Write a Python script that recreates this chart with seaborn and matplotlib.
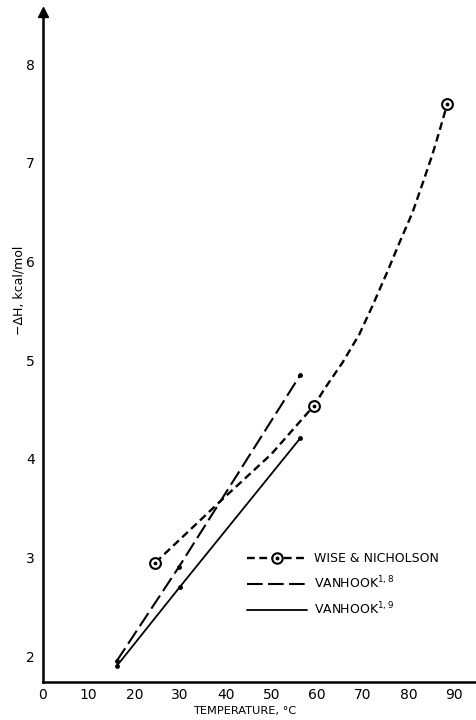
import matplotlib
matplotlib.use("Agg")
import matplotlib.pyplot as plt
import seaborn as sns
from matplotlib.lines import Line2D
from matplotlib.legend_handler import HandlerTuple

wn_curve_t = [24.6, 39.0, 50.0, 59.3, 61.9, 65.6, 69.2, 72.1, 75.4, 78.0, 80.9, 83.0, 85.2, 86.7, 88.5]
wn_curve_h = [2.95, 3.58, 4.05, 4.54, 4.73, 4.98, 5.26, 5.55, 5.90, 6.19, 6.50, 6.78, 7.08, 7.31, 7.60]
wn_pts_t = [24.6, 59.3, 88.5]
wn_pts_h = [2.95, 4.54, 7.60]

# Vanhook 1,8 (long dashes) and Vanhook 1,9 (solid)
vh8_t = [16.1, 29.8, 56.3]
vh8_h = [1.95, 2.91, 4.85]
vh9_t = [16.1, 29.9, 56.3]
vh9_h = [1.90, 2.70, 4.21]

x_ticks = [0, 10, 20, 30, 40, 50, 60, 70, 80, 90]
y_ticks = [2, 3, 4, 5, 6, 7, 8]

sns.set_theme(style="white")
plt.rcParams['font.family'] = ['DejaVu Sans']
plt.rcParams['text.color'] = 'black'
plt.rcParams['axes.labelcolor'] = 'black'
plt.rcParams['xtick.color'] = 'black'
plt.rcParams['ytick.color'] = 'black'

fig = plt.figure(figsize=(4.77, 7.2), dpi=100)
ax = fig.add_axes([43 / 477, 38 / 720, 434 / 477, 670 / 720])

wn_style = (0, (3.3, 1.9))
vh8_style = (0, (7.5, 2.6))

sns.lineplot(x=wn_curve_t, y=wn_curve_h, ax=ax, color="black", lw=1.7,
             linestyle=wn_style, sort=False, estimator=None)
ax.scatter(wn_pts_t, wn_pts_h, s=60, facecolor="white", edgecolor="black",
           linewidth=1.5, zorder=5)
ax.scatter(wn_pts_t, wn_pts_h, s=3, color="black", zorder=6)

sns.lineplot(x=vh8_t, y=vh8_h, ax=ax, color="black", lw=1.5,
             linestyle=vh8_style, sort=False, estimator=None,
             marker="o", markersize=3.5, markeredgewidth=0)
sns.lineplot(x=vh9_t, y=vh9_h, ax=ax, color="black", lw=1.3,
             sort=False, estimator=None,
             marker="o", markersize=3.5, markeredgewidth=0)

ax.set_xlim(0, 95)
ax.set_ylim(1.74, 8.53)
ax.set_xticks(x_ticks)
ax.set_yticks(y_ticks)
ax.tick_params(axis="x", direction="in", length=4, width=1, labelsize=10, pad=4)
ax.tick_params(axis="y", direction="inout", length=6, width=1, labelsize=10, pad=3)

for side in ["top", "right"]:
    ax.spines[side].set_visible(False)
for side in ["left", "bottom"]:
    ax.spines[side].set_linewidth(1.8)
    ax.spines[side].set_color("black")

# arrow heads on the axes
ax.plot(1, 0, ">", color="black", ms=7, transform=ax.get_yaxis_transform(), clip_on=False)
ax.plot(0, 1, "^", color="black", ms=7, transform=ax.get_xaxis_transform(), clip_on=False)

ax.set_xlabel("TEMPERATURE, °C", fontsize=8.2)
ax.xaxis.set_label_coords(0.465, -0.036)
ax.set_ylabel("−ΔH, kcal/mol", fontsize=9)
ax.yaxis.set_label_coords(-0.04, 0.585)

h_wn = (Line2D([], [], color="black", lw=1.7, linestyle=wn_style, marker="o",
               ms=7.5, mfc="white", mec="black", mew=1.5),
        Line2D([], [], ls="", marker="o", ms=1.8, color="black"))
h_vh8 = Line2D([], [], color="black", lw=1.5, linestyle=vh8_style)
h_vh9 = Line2D([], [], color="black", lw=1.3)
ax.legend([h_wn, h_vh8, h_vh9],
          ["WISE & NICHOLSON", "VANHOOK$^{1,8}$", "VANHOOK$^{1,9}$"],
          handler_map={tuple: HandlerTuple(ndivide=1)},
          loc="upper left", bbox_to_anchor=(0.47, 0.194), frameon=False,
          fontsize=9, handlelength=4.8, handletextpad=0.6, labelspacing=0.75,
          borderpad=0, borderaxespad=0, numpoints=1)

fig.savefig("out.png", dpi=100)
